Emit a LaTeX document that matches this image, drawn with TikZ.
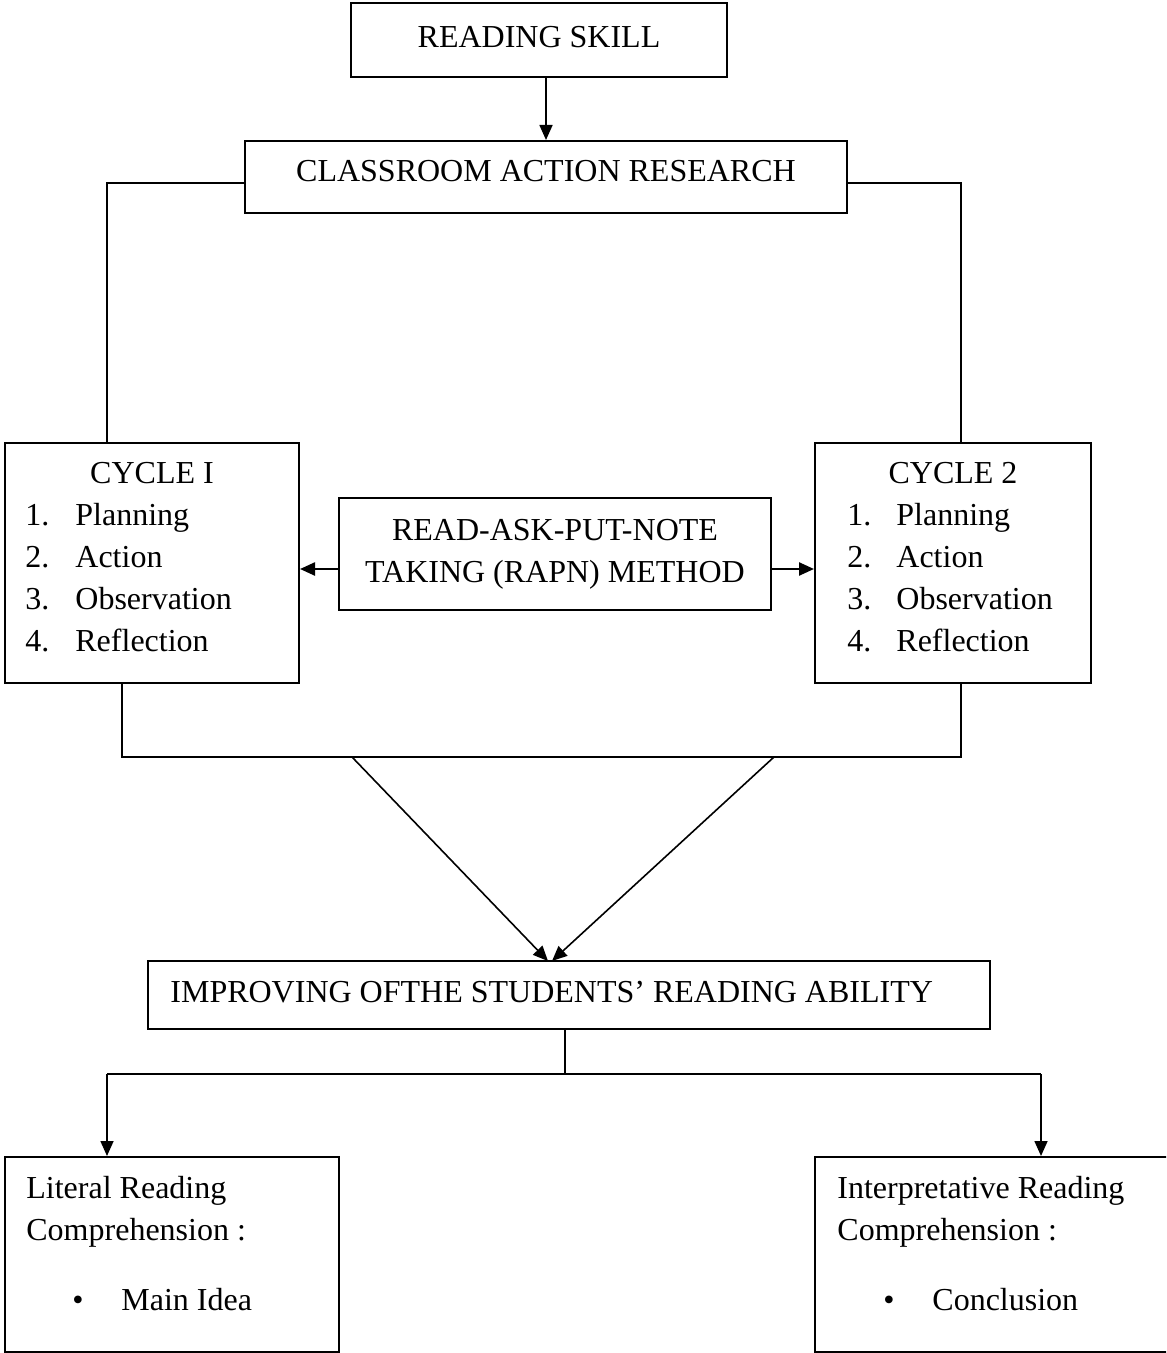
\documentclass[tikz,border=0pt]{standalone}
\usepackage{fontspec}
\setmainfont{Liberation Serif}
\usetikzlibrary{arrows.meta,calc}
\begin{document}
\begin{tikzpicture}[x=0.5pt,y=-0.5pt,
  font=\fontsize{16}{19}\selectfont,
  box/.style={draw,line width=1pt,inner sep=0pt,minimum width=#1},
  conn/.style={line width=0.8pt},
  arr/.style={conn,-{Triangle[length=7.5pt,width=6.5pt]}},
  txt/.style={inner sep=0pt,anchor=base},
  ltxt/.style={inner sep=0pt,anchor=base west}]
\useasboundingbox (0,0) rectangle (1166,1353);
\clip (0,0) rectangle (1166,1353);
% boxes
\node[box=188pt,minimum height=37pt] (rs) at (539,40) {};
\node[box=301pt,minimum height=36pt] (car) at (546,177) {};
\node[box=147pt,minimum height=120pt] (cyc1) at (152,563) {};
\node[box=138pt,minimum height=120pt] (cyc2) at (953,563) {};
\node[box=216pt,minimum height=56pt] (rapn) at (555,554) {};
\node[box=421pt,minimum height=34pt] (imp) at (569,995) {};
\node[box=167pt,minimum height=97.5pt] (lit) at (172,1254.5) {};
\node[box=182.5pt,minimum height=97.5pt] (int) at (997.5,1254.5) {};
% texts
\node[txt] (t1) at (539,48) {READING SKILL};
\node[txt] (t2) at (546,182) {CLASSROOM ACTION RESEARCH};
\node[txt] (c1h) at (152,483) {CYCLE I};
\node[ltxt] (c1n1) at (25,525) {1.};
\node[ltxt] (c1w1) at (75,525) {Planning};
\node[ltxt] (c1n2) at (25,567) {2.};
\node[ltxt] (c1w2) at (75,567) {Action};
\node[ltxt] (c1n3) at (25,609) {3.};
\node[ltxt] (c1w3) at (75,609) {Observation};
\node[ltxt] (c1n4) at (25,651) {4.};
\node[ltxt] (c1w4) at (75,651) {Reflection};
\node[txt] (c2h) at (953,483) {CYCLE 2};
\node[ltxt] (c2n1) at (847,525) {1.};
\node[ltxt] (c2w1) at (896,525) {Planning};
\node[ltxt] (c2n2) at (847,567) {2.};
\node[ltxt] (c2w2) at (896,567) {Action};
\node[ltxt] (c2n3) at (847,609) {3.};
\node[ltxt] (c2w3) at (896,609) {Observation};
\node[ltxt] (c2n4) at (847,651) {4.};
\node[ltxt] (c2w4) at (896,651) {Reflection};
\node[txt] (r1) at (555,540) {READ-ASK-PUT-NOTE};
\node[txt] (r2) at (555,582) {TAKING (RAPN) METHOD};
\node[ltxt] (it) at (170,1002) {IMPROVING OFTHE STUDENTS’ READING ABILITY};
\node[ltxt] (l1) at (26,1198) {Literal Reading};
\node[ltxt] (l2) at (26,1240) {Comprehension :};
\node[txt] (lb) at (78,1310) {•};
\node[ltxt] (l3) at (121,1310) {Main Idea};
\node[ltxt] (i1) at (837,1198) {Interpretative Reading};
\node[ltxt] (i2) at (837,1240) {Comprehension :};
\node[txt] (ib) at (889,1310) {•};
\node[ltxt] (i3) at (932,1310) {Conclusion};
% coordinates
\coordinate (ltop) at (107,183);
\coordinate (rtop) at (961,183);
\coordinate (al) at (339,569);
\coordinate (ar) at (771,569);
\coordinate (bl) at (122,757);
\coordinate (br) at (961,757);
\coordinate (dl) at (352,757);
\coordinate (dr) at (774,757);
\coordinate (tipl) at (548,961);
\coordinate (tipr) at (552,961);
\coordinate (hb) at (565,1074);
\coordinate (hl) at (107,1074);
\coordinate (hr) at (1041,1074);
% connectors
\draw[arr] (rs.south -| car.north) -- (car.north);
\draw[conn] (car.west |- ltop) -- (ltop) -- (ltop |- cyc1.north);
\draw[conn] (car.east |- rtop) -- (rtop) -- (rtop |- cyc2.north);
\draw[arr,line width=1.2pt] (rapn.west |- al) -- (al -| cyc1.east);
\draw[arr,line width=1.2pt] (rapn.east |- ar) -- (ar -| cyc2.west);
\draw[conn] (bl |- cyc1.south) -- (bl) -- (br) -- (br |- cyc2.south);
\draw[arr] (dl) -- (tipl);
\draw[arr] (dr) -- (tipr);
\draw[conn] (hb |- imp.south) -- (hb);
\draw[conn] (hl) -- (hr);
\draw[arr] (hl) -- (hl |- lit.north);
\draw[arr] (hr) -- (hr |- int.north);
\end{tikzpicture}
\end{document}
